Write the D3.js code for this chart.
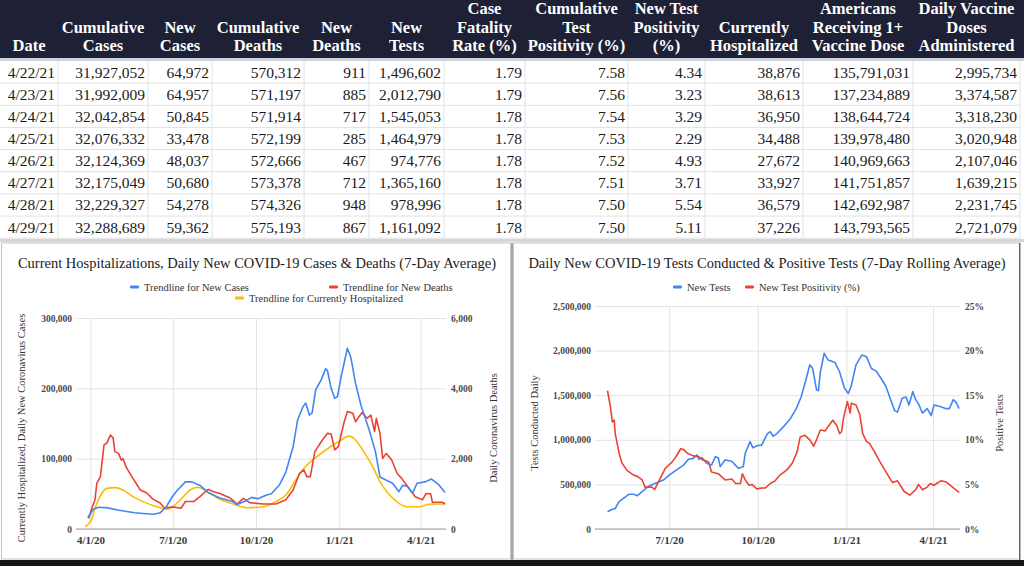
<!DOCTYPE html>
<html>
<head>
<meta charset="utf-8">
<script src="https://cdn.jsdelivr.net/npm/d3@7"></script>
<style>
  body { margin: 0; background: #fff; }
  svg { display: block; font-family: "Liberation Serif", "Times New Roman", serif; }
</style>
</head>
<body>
<script>
// ---- table data ----
const tableHeaders = [
	["Date"], ["Cumulative", "Cases"], ["New", "Cases"], ["Cumulative", "Deaths"],
	["New", "Deaths"], ["New", "Tests"], ["Case", "Fatality", "Rate (%)"],
	["Cumulative", "Test", "Positivity (%)"], ["New Test", "Positivity", "(%)"],
	["Currently", "Hospitalized"], ["Americans", "Receiving 1+", "Vaccine Dose"],
	["Daily Vaccine", "Doses", "Administered"]
];
const rowDates = ["4/22/21", "4/23/21", "4/24/21", "4/25/21", "4/26/21", "4/27/21", "4/28/21", "4/29/21"];
const cumulativeCases = [31927052, 31992009, 32042854, 32076332, 32124369, 32175049, 32229327, 32288689];
const newCases = [64972, 64957, 50845, 33478, 48037, 50680, 54278, 59362];
const cumulativeDeaths = [570312, 571197, 571914, 572199, 572666, 573378, 574326, 575193];
const newDeaths = [911, 885, 717, 285, 467, 712, 948, 867];
const newTests = [1496602, 2012790, 1545053, 1464979, 974776, 1365160, 978996, 1161092];
const fatalityRate = ["1.79", "1.79", "1.78", "1.78", "1.78", "1.78", "1.78", "1.78"];
const cumulativePositivity = ["7.58", "7.56", "7.54", "7.53", "7.52", "7.51", "7.50", "7.50"];
const newPositivity = ["4.34", "3.23", "3.29", "2.29", "4.93", "3.71", "5.54", "5.11"];
const hospitalized = [38876, 38613, 36950, 34488, 27672, 33927, 36579, 37226];
const vaccinated = [135791031, 137234889, 138644724, 139978480, 140969663, 141751857, 142692987, 143793565];
const vaccineDoses = [2995734, 3374587, 3318230, 3020948, 2107046, 1639215, 2231745, 2721079];

// ---- left chart series (7-day averages) ----
const caseTrend = [
	["2020-03-29",16000],["2020-04-04",28000],["2020-04-10",31000],["2020-04-20",30000],["2020-05-01",27000],
	["2020-05-11",25000],["2020-05-20",23000],["2020-05-29",22000],["2020-06-10",21000],["2020-06-17",23000],
	["2020-06-24",32000],["2020-06-30",45000],["2020-07-06",55000],["2020-07-15",67000],["2020-07-22",67000],
	["2020-07-31",62000],["2020-08-09",52000],["2020-08-22",44000],["2020-09-05",39000],["2020-09-10",35000],
	["2020-09-20",40000],["2020-09-26",45000],["2020-10-03",43000],["2020-10-12",48000],["2020-10-18",50000],
	["2020-10-27",63000],["2020-11-03",81000],["2020-11-11",117000],["2020-11-16",155000],["2020-11-22",174000],
	["2020-11-25",179000],["2020-11-29",162000],["2020-12-02",165000],["2020-12-06",198000],["2020-12-12",212000],
	["2020-12-17",228000],["2020-12-19",225000],["2020-12-23",200000],["2020-12-27",186000],["2020-12-30",188000],
	["2021-01-03",216000],["2021-01-10",257000],["2021-01-14",243000],["2021-01-19",207000],["2021-01-25",176000],
	["2021-02-03",141000],["2021-02-10",110000],["2021-02-15",74000],["2021-02-21",70000],["2021-03-01",65000],
	["2021-03-08",53000],["2021-03-12",62000],["2021-03-17",61000],["2021-03-23",51000],["2021-03-28",65000],
	["2021-04-06",67000],["2021-04-13",71000],["2021-04-21",63000],["2021-04-28",52000]
];
const deathTrend = [
	["2020-03-30",300],["2020-04-03",630],["2020-04-06",830],["2020-04-08",1300],["2020-04-12",1490],
	["2020-04-16",2390],["2020-04-19",2440],["2020-04-23",2670],["2020-04-26",2590],["2020-04-28",2200],
	["2020-05-02",2150],["2020-05-05",1960],["2020-05-07",2000],["2020-05-11",1730],["2020-05-18",1440],
	["2020-05-26",1110],["2020-06-02",1030],["2020-06-09",850],["2020-06-17",740],["2020-06-22",590],
	["2020-07-01",630],["2020-07-10",590],["2020-07-15",780],["2020-07-24",780],["2020-07-31",920],
	["2020-08-09",1130],["2020-08-15",1060],["2020-08-22",1010],["2020-09-02",890],["2020-09-10",710],
	["2020-09-17",870],["2020-09-24",750],["2020-10-09",710],["2020-10-23",710],["2020-11-03",830],
	["2020-11-11",1110],["2020-11-18",1580],["2020-11-23",1680],["2020-11-26",1490],["2020-11-30",1490],
	["2020-12-05",2200],["2020-12-12",2480],["2020-12-19",2720],["2020-12-23",2700],["2020-12-27",2250],
	["2020-12-31",2340],["2021-01-06",3000],["2021-01-10",3340],["2021-01-16",3290],["2021-01-19",3050],
	["2021-01-26",3310],["2021-02-01",3150],["2021-02-05",3240],["2021-02-09",2770],["2021-02-11",3150],
	["2021-02-15",2720],["2021-02-18",2010],["2021-02-22",2150],["2021-02-28",1960],["2021-03-06",1580],
	["2021-03-11",1440],["2021-03-19",1160],["2021-03-26",920],["2021-04-03",830],["2021-04-07",1010],
	["2021-04-12",1000],["2021-04-14",760],["2021-04-25",760],["2021-04-28",710]
];
const hospitalTrend = [
	["2020-03-26",3300],["2020-04-01",10400],["2020-04-08",36500],["2020-04-14",51600],["2020-04-19",57800],
	["2020-04-28",58800],["2020-05-07",55400],["2020-05-18",46000],["2020-05-29",38900],["2020-06-13",31700],
	["2020-06-24",28000],["2020-07-01",31700],["2020-07-11",43600],["2020-07-20",55400],["2020-07-28",59300],
	["2020-08-08",53000],["2020-08-22",42200],["2020-09-07",35000],["2020-09-21",30300],["2020-10-09",31700],
	["2020-10-23",38900],["2020-11-03",48300],["2020-11-14",69700],["2020-11-23",86300],["2020-12-05",100500],
	["2020-12-17",112300],["2020-12-31",124000],["2021-01-12",132000],["2021-01-19",126500],["2021-01-28",110000],
	["2021-02-07",88600],["2021-02-15",67300],["2021-02-24",50700],["2021-03-08",36500],["2021-03-17",31700],
	["2021-03-31",31700],["2021-04-12",35500],["2021-04-28",35500]
];

// ---- right chart series ----
const testsDaily = [
	["2020-04-28",194000],["2020-05-03",221000],["2020-05-06",230000],["2020-05-10",306000],["2020-05-17",362000],
	["2020-05-20",389000],["2020-05-25",389000],["2020-05-29",373000],["2020-06-03",418000],["2020-06-10",482000],
	["2020-06-17",512000],["2020-06-25",549000],["2020-07-01",605000],["2020-07-11",680000],["2020-07-16",717000],
	["2020-07-21",781000],["2020-07-26",792000],["2020-07-30",830000],["2020-08-01",781000],["2020-08-04",800000],
	["2020-08-09",736000],["2020-08-14",717000],["2020-08-18",811000],["2020-08-21",800000],["2020-08-23",699000],
	["2020-08-28",774000],["2020-09-04",760000],["2020-09-11",680000],["2020-09-16",700000],["2020-09-18",849000],
	["2020-09-23",979000],["2020-09-26",910000],["2020-09-30",934000],["2020-10-05",940000],["2020-10-11",1070000],
	["2020-10-14",1090000],["2020-10-17",1040000],["2020-10-21",1070000],["2020-10-28",1150000],["2020-11-04",1240000],
	["2020-11-10",1350000],["2020-11-15",1480000],["2020-11-20",1670000],["2020-11-24",1840000],["2020-11-27",1800000],
	["2020-12-01",1560000],["2020-12-03",1550000],["2020-12-05",1760000],["2020-12-09",1970000],["2020-12-13",1895000],
	["2020-12-20",1870000],["2020-12-25",1760000],["2020-12-30",1580000],["2021-01-03",1520000],["2021-01-06",1600000],
	["2021-01-11",1840000],["2021-01-17",1950000],["2021-01-22",1930000],["2021-01-27",1800000],["2021-02-01",1770000],
	["2021-02-06",1690000],["2021-02-11",1600000],["2021-02-16",1450000],["2021-02-20",1330000],["2021-02-23",1310000],
	["2021-02-28",1465000],["2021-03-04",1480000],["2021-03-07",1390000],["2021-03-11",1540000],["2021-03-14",1450000],
	["2021-03-17",1400000],["2021-03-21",1300000],["2021-03-26",1350000],["2021-03-30",1270000],["2021-04-02",1390000],
	["2021-04-09",1370000],["2021-04-14",1350000],["2021-04-18",1350000],["2021-04-22",1450000],["2021-04-25",1420000],
	["2021-04-28",1350000]
];
const positivityDaily = [
	["2020-04-28",15.5],["2020-05-01",13.7],["2020-05-03",12.0],["2020-05-05",12.2],["2020-05-06",10.7],
	["2020-05-10",8.5],["2020-05-13",7.4],["2020-05-18",6.6],["2020-05-25",6.05],["2020-05-29",5.9],
	["2020-06-03",5.5],["2020-06-06",4.7],["2020-06-13",4.7],["2020-06-16",4.45],["2020-06-20",5.3],
	["2020-06-27",6.8],["2020-07-01",7.2],["2020-07-04",7.5],["2020-07-08",8.1],["2020-07-13",9.0],
	["2020-07-16",8.9],["2020-07-20",8.5],["2020-07-26",8.2],["2020-08-01",8.1],["2020-08-04",7.8],
	["2020-08-11",7.5],["2020-08-14",6.4],["2020-08-21",6.2],["2020-08-28",5.5],["2020-09-04",5.6],
	["2020-09-08",5.1],["2020-09-13",5.1],["2020-09-15",6.2],["2020-09-18",5.5],["2020-09-22",4.9],
	["2020-09-25",5.0],["2020-09-30",4.5],["2020-10-05",4.6],["2020-10-09",4.6],["2020-10-14",5.1],
	["2020-10-19",5.4],["2020-10-24",6.05],["2020-10-31",6.6],["2020-11-06",7.4],["2020-11-11",8.7],
	["2020-11-14",10.3],["2020-11-19",10.5],["2020-11-24",10.0],["2020-11-28",9.3],["2020-12-01",10.0],
	["2020-12-05",11.1],["2020-12-10",11.0],["2020-12-13",11.5],["2020-12-18",12.2],["2020-12-22",11.6],
	["2020-12-25",10.7],["2020-12-27",10.9],["2020-12-29",12.4],["2021-01-02",14.3],["2021-01-05",13.0],
	["2021-01-06",14.1],["2021-01-11",13.9],["2021-01-15",12.8],["2021-01-18",10.7],["2021-01-22",9.8],
	["2021-01-25",9.6],["2021-01-30",8.7],["2021-02-04",7.7],["2021-02-09",6.8],["2021-02-15",5.7],
	["2021-02-18",5.2],["2021-02-23",5.4],["2021-02-26",4.9],["2021-03-02",4.2],["2021-03-08",3.8],
	["2021-03-14",4.4],["2021-03-17",5.0],["2021-03-21",4.4],["2021-03-26",4.7],["2021-03-29",5.1],
	["2021-04-02",4.9],["2021-04-09",5.4],["2021-04-14",5.3],["2021-04-19",4.9],["2021-04-24",4.45],
	["2021-04-28",4.1]
];

const leftDateTicks = ["2020-04-01", "2020-07-01", "2020-10-01", "2021-01-01", "2021-04-01"];
const rightDateTicks = ["2020-07-01", "2020-10-01", "2021-01-01", "2021-04-01"];
const caseTicks = [0, 100000, 200000, 300000];
const deathTicks = [0, 2000, 4000, 6000];
const testTicks = [0, 500000, 1000000, 1500000, 2000000, 2500000];
const positivityTicks = [0, 5, 10, 15, 20, 25];

const BLUE = "#4285f4", RED = "#ea4335", YELLOW = "#fbbc04";
const parse = d3.timeParse("%Y-%m-%d");
const fmtDate = d3.timeFormat("%-m/%-d/%y");
const comma = d3.format(",");

const svg = d3.select("body").append("svg").attr("width", 1024).attr("height", 566);

/////////////////////////////////////////////////////////////////////////////////
// 표 (table)
const colEdges = [0, 58, 148, 212, 304, 369, 444, 525, 628, 705, 803, 913, 1020];
const rowTop = 61, rowH = 22.15;

svg.append("rect").attr("x", 0).attr("y", 0).attr("width", 1024).attr("height", 58).attr("fill", "#1e2036");
svg.append("rect").attr("x", 0).attr("y", 58).attr("width", 1024).attr("height", 3).attr("fill", "#ced2db");

tableHeaders.forEach((lines, c) => {
	const cx = (colEdges[c] + colEdges[c + 1]) / 2;
	lines.forEach((t, k) => {
		svg.append("text")
			.attr("x", cx)
			.attr("y", 51 - (lines.length - 1 - k) * 18.5)
			.attr("text-anchor", "middle")
			.attr("fill", "#fff")
			.style("font-size", "16.5px")
			.style("font-weight", "bold")
			.text(t);
	});
});

const columns = [
	rowDates, cumulativeCases.map(comma), newCases.map(comma), cumulativeDeaths.map(comma),
	newDeaths.map(comma), newTests.map(comma), fatalityRate, cumulativePositivity, newPositivity,
	hospitalized.map(comma), vaccinated.map(comma), vaccineDoses.map(comma)
];

const tableG = svg.append("g");
rowDates.forEach((d, r) => {
	tableG.append("line")
		.attr("x1", 0).attr("x2", 1020)
		.attr("y1", rowTop + (r + 1) * rowH).attr("y2", rowTop + (r + 1) * rowH)
		.attr("stroke", "#e2e2e2");
});
colEdges.slice(1).forEach(x => {
	tableG.append("line")
		.attr("x1", x).attr("x2", x)
		.attr("y1", rowTop).attr("y2", rowTop + rowDates.length * rowH)
		.attr("stroke", "#e2e2e2");
});
columns.forEach((vals, c) => {
	vals.forEach((v, r) => {
		tableG.append("text")
			.attr("x", colEdges[c + 1] - 3)
			.attr("y", rowTop + r * rowH + 16.5)
			.attr("text-anchor", "end")
			.attr("fill", "#1a1a1a")
			.style("font-size", "15.5px")
			.text(v);
	});
});

// panel frames
svg.append("rect").attr("x", 0).attr("y", 239).attr("width", 1024).attr("height", 3).attr("fill", "#d6d6d6");
svg.append("rect").attr("x", 1.5).attr("y", 243).attr("width", 509).attr("height", 316)
	.attr("fill", "none").attr("stroke", "#c4c4c4");
svg.append("rect").attr("x", 513.5).attr("y", 243).attr("width", 506).attr("height", 316)
	.attr("fill", "none").attr("stroke", "#c4c4c4");
svg.append("rect").attr("x", 511).attr("y", 243).attr("width", 2).attr("height", 317).attr("fill", "#a9a9a9");
svg.append("rect").attr("x", 1019).attr("y", 243).attr("width", 1.5).attr("height", 317).attr("fill", "#666");
svg.append("rect").attr("x", 0).attr("y", 560).attr("width", 1024).attr("height", 6).attr("fill", "#141414");

/////////////////////////////////////////////////////////////////////////////////
// 공통 차트 함수
function drawChart(opt) {
	const g = svg.append("g");
	const [x0, x1] = opt.x.range();
	const [yb, yt] = opt.yL.range();

	// horizontal grid
	g.append("g")
		.attr("transform", `translate(${x0},0)`)
		.call(d3.axisLeft(opt.yL).tickValues(opt.yLTicks).tickSize(-(x1 - x0)).tickFormat(""))
		.call(s => s.select(".domain").remove())
		.selectAll("line").attr("stroke", "#e3e3e3");

	// vertical grid
	g.append("g")
		.attr("transform", `translate(0,${yb})`)
		.call(d3.axisBottom(opt.x).tickValues(opt.xTicks).tickSize(-(yb - yt)).tickFormat(""))
		.call(s => s.select(".domain").remove())
		.selectAll("line").attr("stroke", "#e3e3e3");

	g.append("line").attr("x1", x0).attr("x2", x1).attr("y1", yb).attr("y2", yb)
		.attr("stroke", "#a0a0a0").attr("stroke-width", 1.2);

	// axis labels
	const styleAxis = s => {
		s.select(".domain").remove();
		s.selectAll("text").attr("fill", "#4a4a4a").style("font-family", "'Liberation Serif', serif");
	};
	g.append("g")
		.attr("transform", `translate(${x0},0)`)
		.call(d3.axisLeft(opt.yL).tickValues(opt.yLTicks).tickSize(0).tickPadding(4).tickFormat(comma))
		.call(styleAxis)
		.selectAll("text").style("font-size", "9.5px").style("font-weight", "bold");
	g.append("g")
		.attr("transform", `translate(${x1},0)`)
		.call(d3.axisRight(opt.yR).tickValues(opt.yRTicks).tickSize(0).tickPadding(5).tickFormat(opt.yRFormat))
		.call(styleAxis)
		.selectAll("text").style("font-size", "9.5px").style("font-weight", "bold");
	g.append("g")
		.attr("transform", `translate(0,${yb})`)
		.call(d3.axisBottom(opt.x).tickValues(opt.xTicks).tickSize(0).tickPadding(7).tickFormat(fmtDate))
		.call(styleAxis)
		.selectAll("text").style("font-size", "11px").style("font-weight", "bold").attr("fill", "#3a3a3a");

	// series
	opt.series.forEach(s => {
		g.append("path")
			.datum(s.data)
			.attr("fill", "none")
			.attr("stroke", s.color)
			.attr("stroke-width", 1.6)
			.attr("stroke-linejoin", "round")
			.attr("d", d3.line()
				.curve(s.curve || d3.curveLinear)
				.x(d => opt.x(parse(d[0])))
				.y(d => s.y(d[1])));
	});

	// title
	g.append("text")
		.attr("x", opt.titleX).attr("y", 268)
		.attr("text-anchor", "middle")
		.attr("fill", "#222")
		.style("font-size", "14.5px")
		.text(opt.title);

	// legend
	opt.legend.forEach(l => {
		g.append("rect")
			.attr("x", l.x).attr("y", l.y - 1.5)
			.attr("width", 9).attr("height", 3).attr("rx", 1.2)
			.attr("fill", l.color);
		g.append("text")
			.attr("x", l.x + 14).attr("y", l.y + 3.5)
			.attr("fill", "#333")
			.style("font-size", "10.5px")
			.text(l.label);
	});

	// axis titles
	opt.axisTitles.forEach(a => {
		g.append("text")
			.attr("transform", `translate(${a.x},${a.y}) rotate(-90)`)
			.attr("text-anchor", "middle")
			.attr("dy", "0.35em")
			.attr("fill", "#333")
			.style("font-size", "10.5px")
			.text(a.text);
	});
}

// 왼쪽 차트
const xLeft = d3.scaleTime().domain([parse("2020-03-16"), parse("2021-04-29")]).range([76, 446]);
const yCases = d3.scaleLinear().domain([0, 300000]).range([529, 318]);
const yDeaths = d3.scaleLinear().domain([0, 6000]).range([529, 318]);

drawChart({
	x: xLeft, yL: yCases, yR: yDeaths,
	xTicks: leftDateTicks.map(parse), yLTicks: caseTicks, yRTicks: deathTicks,
	yRFormat: comma,
	title: "Current Hospitalizations, Daily New COVID-19 Cases & Deaths (7-Day Average)",
	titleX: 257,
	series: [
		{ data: hospitalTrend, y: yCases, color: YELLOW, curve: d3.curveMonotoneX },
		{ data: deathTrend, y: yDeaths, color: RED },
		{ data: caseTrend, y: yCases, color: BLUE }
	],
	legend: [
		{ x: 130, y: 287, color: BLUE, label: "Trendline for New Cases" },
		{ x: 329, y: 287, color: RED, label: "Trendline for New Deaths" },
		{ x: 235, y: 298, color: YELLOW, label: "Trendline for Currently Hospitalized" }
	],
	axisTitles: [
		{ x: 21, y: 428, text: "Currently Hospitalized, Daily New Coronavirus Cases" },
		{ x: 493, y: 428, text: "Daily Coronavirus Deaths" }
	]
});

// 오른쪽 차트
const xRight = d3.scaleTime().domain([parse("2020-04-15"), parse("2021-04-29")]).range([595, 960]);
const yTests = d3.scaleLinear().domain([0, 2500000]).range([529, 306]);
const yPositive = d3.scaleLinear().domain([0, 25]).range([529, 306]);

drawChart({
	x: xRight, yL: yTests, yR: yPositive,
	xTicks: rightDateTicks.map(parse), yLTicks: testTicks, yRTicks: positivityTicks,
	yRFormat: d => d + "%",
	title: "Daily New COVID-19 Tests Conducted & Positive Tests (7-Day Rolling Average)",
	titleX: 767,
	series: [
		{ data: testsDaily, y: yTests, color: BLUE },
		{ data: positivityDaily, y: yPositive, color: RED }
	],
	legend: [
		{ x: 673, y: 287, color: BLUE, label: "New Tests" },
		{ x: 745, y: 287, color: RED, label: "New Test Positivity (%)" }
	],
	axisTitles: [
		{ x: 534, y: 423, text: "Tests Conducted Daily" },
		{ x: 999, y: 423, text: "Positive Tests" }
	]
});
</script>
</body>
</html>
